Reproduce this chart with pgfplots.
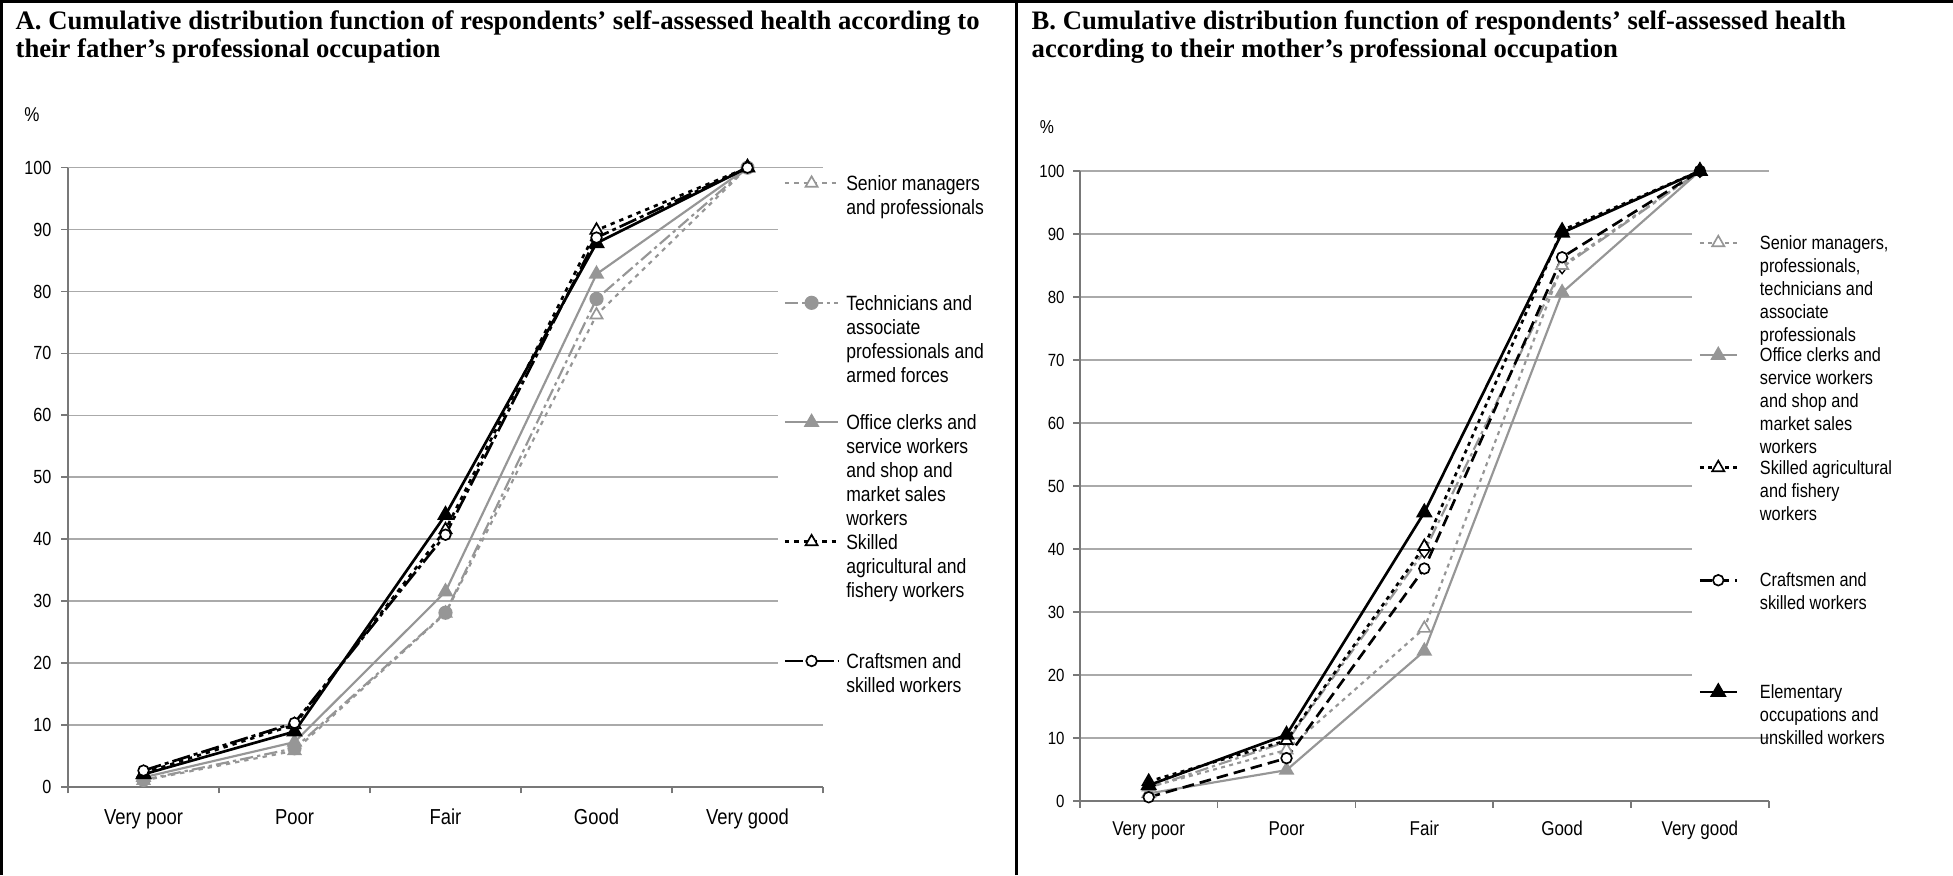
\documentclass[border=0pt]{standalone}
\usepackage{pgfplots}
\pgfplotsset{compat=1.18}
\usepackage{fontspec}
\setmainfont{Liberation Sans}[FakeStretch=0.85]
\newfontfamily\titlefont{Liberation Serif}
\definecolor{exgray}{RGB}{150,150,150}
\definecolor{gridgray}{RGB}{170,170,170}
\definecolor{axgray}{RGB}{120,120,120}
\newcommand{\lentA}[1]{\parbox[t]{46pt}{\raggedright #1}}
\newcommand{\lentB}[1]{\parbox[t]{48pt}{\raggedright #1}}
\tikzset{
  entA/.style={text height=4.6pt, text depth=31.25pt},
  entB/.style={text height=4.35pt, text depth=29.4pt},
}
\pgfplotsset{
  cdf/.style={
    scale only axis, clip=false,
    xmin=-0.5, xmax=4.5, ymin=0, ymax=100,
    xtick={0,1,2,3,4},
    xticklabels={Very poor,Poor,Fair,Good,Very good},
    minor xtick={-0.5,0.5,1.5,2.5,3.5,4.5},
    ytick={0,10,...,100},
    minor ytick={0,10,...,100},
    axis x line*=bottom, axis y line*=left,
    axis line style={draw=axgray, line width=0.5pt},
    tick align=outside,
    major tick length=0pt, minor tick length=2pt,
    tick style={draw=axgray, line width=0.5pt},
    ymajorgrids, grid style={draw=gridgray, line width=0.45pt},
    /pgf/number format/assume math mode=true,
  },
  gline/.style={color=exgray, line width=0.65pt},
  bline/.style={color=black, line width=0.8pt},
  wtrig/.style={mark=triangle*, mark size=2.1pt, mark options={solid, fill=white, draw=exgray, line width=0.5pt}},
  wtrib/.style={mark=triangle*, mark size=2.1pt, mark options={solid, fill=white, draw=black, line width=0.5pt}},
  gtri/.style={mark=triangle*, mark size=2.1pt, mark options={solid, fill=exgray, draw=exgray}},
  btri/.style={mark=triangle*, mark size=2.1pt, mark options={solid, fill=black, draw=black}},
  gcirc/.style={mark=*, mark size=1.8pt, mark options={solid, fill=exgray, draw=exgray}},
  wcirc/.style={mark=*, mark size=1.6pt, mark options={solid, fill=white, draw=black, line width=0.5pt}},
  wdiam/.style={mark=diamond*, mark size=1.9pt, mark options={solid, fill=white, draw=black, line width=0.4pt}},
  dashdot/.style={dash pattern=on 4pt off 1.2pt on 1pt off 1.2pt},
  ldashdot/.style={dash pattern=on 5.5pt off 1.2pt on 1.2pt off 1.2pt},
  sdash/.style={dash pattern=on 1.3pt off 1.5pt},
  sdot/.style={dash pattern=on 1.2pt off 1.3pt},
  ldash/.style={dash pattern=on 3.5pt off 1.8pt},
}
\begin{document}
\begin{tikzpicture}
\path[use as bounding box] (0,0) rectangle (585.9pt,262.5pt);

% ---------------- Panel A ----------------
\node[anchor=base west, inner sep=0pt, font=\titlefont\bfseries\fontsize{8pt}{8.4pt}\selectfont] at (4.5pt,253.5pt) {A. Cumulative distribution function of respondents’ self-assessed health according to};
\node[anchor=base west, inner sep=0pt, font=\titlefont\bfseries\fontsize{8pt}{8.4pt}\selectfont] at (4.5pt,245.1pt) {their father’s professional occupation};
\node[inner sep=0pt, font=\fontsize{6pt}{7pt}\selectfont] at (9.6pt,228pt) {\%};

\begin{axis}[cdf,
  at={(20.4pt,26.5pt)}, anchor=south west,
  width=226.5pt, height=185.7pt,
  xticklabel style={font=\fontsize{6.5pt}{7.5pt}\selectfont, anchor=base, inner sep=0pt, yshift=-11.2pt},
  yticklabel style={font=\fontsize{5.7pt}{6.5pt}\selectfont, anchor=east, inner sep=0pt, xshift=-4.8pt},
  legend style={at={(axis description cs:0.939,0.9941)}, anchor=north west,
    draw=none, fill=white, inner xsep=1.8pt, inner ysep=1pt,
    font=\fontsize{6.2pt}{7.2pt}\selectfont,
    cells={anchor=base west}, nodes={inner sep=0pt}, row sep=0pt, column sep=2pt},
  legend image code/.code={\draw[mark repeat=2, mark phase=2, #1] plot coordinates {(0pt,2.2pt) (8pt,2.2pt) (16pt,2.2pt)};},
]
\addplot[gline, sdash, wtrig] coordinates {(0,1.0) (1,5.8) (2,28.0) (3,76.2) (4,100)};
\addlegendentry[entA]{\lentA{Senior managers\\and professionals}}
\addplot[gline, dashdot, gcirc] coordinates {(0,1.1) (1,6.2) (2,28.1) (3,78.8) (4,100)};
\addlegendentry[entA]{\lentA{Technicians and\\associate\\professionals and\\armed forces}}
\addplot[gline, solid, gtri] coordinates {(0,1.5) (1,7.2) (2,31.5) (3,82.8) (4,100)};
\addlegendentry[entA]{\lentA{Office clerks and\\service workers\\and shop and\\market sales\\workers}}
\addplot[bline, sdash, wtrib] coordinates {(0,2.2) (1,10.0) (2,41.5) (3,89.9) (4,100)};
\addlegendentry[entA]{\lentA{Skilled\\agricultural and\\fishery workers}}
\addplot[bline, solid, btri, forget plot] coordinates {(0,2.0) (1,8.9) (2,43.9) (3,87.8) (4,100)};
\addplot[bline, ldashdot, wcirc] coordinates {(0,2.6) (1,10.3) (2,40.7) (3,88.7) (4,100)};
\addlegendentry{\lentA{Craftsmen and\\skilled workers}}
\end{axis}

% ---------------- Panel B ----------------
\node[anchor=base west, inner sep=0pt, font=\titlefont\bfseries\fontsize{8pt}{8.4pt}\selectfont] at (309.3pt,253.5pt) {B. Cumulative distribution function of respondents’ self-assessed health};
\node[anchor=base west, inner sep=0pt, font=\titlefont\bfseries\fontsize{8pt}{8.4pt}\selectfont] at (309.3pt,245.1pt) {according to their mother’s professional occupation};
\node[inner sep=0pt, font=\fontsize{5.6pt}{6.5pt}\selectfont] at (314.1pt,224.4pt) {\%};

\begin{axis}[cdf,
  at={(323.94pt,22.2pt)}, anchor=south west,
  width=206.7pt, height=189pt,
  xticklabel style={font=\fontsize{6pt}{7pt}\selectfont, anchor=base, inner sep=0pt, yshift=-10.2pt},
  yticklabel style={font=\fontsize{5.3pt}{6.2pt}\selectfont, anchor=east, inner sep=0pt, xshift=-4.4pt},
  legend style={at={(axis description cs:0.887,0.906)}, anchor=north west,
    draw=none, fill=white, inner xsep=2.1pt, inner ysep=1.2pt,
    font=\fontsize{5.75pt}{6.9pt}\selectfont,
    cells={anchor=base west}, nodes={inner sep=0pt}, row sep=0pt, column sep=6.6pt},
  legend image code/.code={\draw[mark repeat=2, mark phase=2, #1] plot coordinates {(0pt,2pt) (5.5pt,2pt) (11pt,2pt)};},
]
\addplot[gline, dashdot, wdiam, forget plot] coordinates {(0,2.1) (1,9.4) (2,39.6) (3,84.7) (4,100)};
\addplot[gline, sdot, wtrig] coordinates {(0,2.2) (1,8.1) (2,27.4) (3,85.0) (4,100)};
\addlegendentry[entB]{\lentB{Senior managers,\\professionals,\\technicians and\\associate\\professionals}}
\addplot[gline, solid, gtri] coordinates {(0,1.2) (1,4.9) (2,23.8) (3,80.7) (4,100)};
\addlegendentry[entB]{\lentB{Office clerks and\\service workers\\and shop and\\market sales\\workers}}
\addplot[bline, sdot, wtrib] coordinates {(0,3.1) (1,9.6) (2,40.4) (3,90.6) (4,100)};
\addlegendentry[entB]{\lentB{Skilled agricultural\\and fishery\\workers}}
\addplot[bline, ldash, wcirc] coordinates {(0,0.6) (1,6.8) (2,36.9) (3,86.3) (4,100)};
\addlegendentry[entB]{\lentB{Craftsmen and\\skilled workers}}
\addplot[bline, solid, btri] coordinates {(0,2.5) (1,10.5) (2,45.8) (3,90.2) (4,100)};
\addlegendentry{\lentB{Elementary\\occupations and\\unskilled workers}}
\end{axis}

% frame
\draw[line width=0.9pt] (0.45pt,0pt) -- (0.45pt,262.5pt);
\draw[line width=0.9pt] (0pt,262.05pt) -- (585.9pt,262.05pt);
\draw[line width=0.9pt] (304.8pt,0pt) -- (304.8pt,262.5pt);
\end{tikzpicture}
\end{document}
